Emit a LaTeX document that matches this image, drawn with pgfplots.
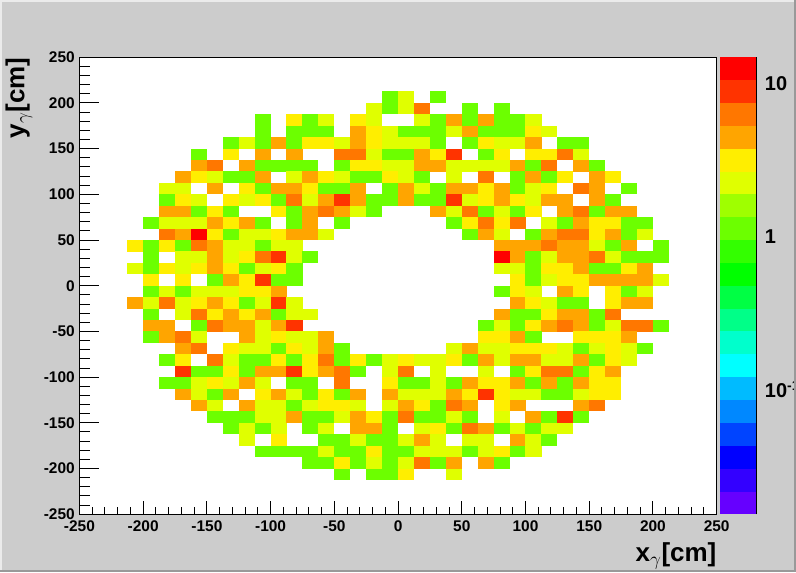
\documentclass[border=0pt]{standalone}
\usepackage{fontspec}
\setmainfont{Liberation Sans}
\usepackage{pgfplots}
\pgfplotsset{compat=1.18}

% 1 px = 0.75 pt; canvas 796x572 px
\pgfdeclareplotmark{cell}{\pgfpathrectangle{\pgfqpoint{-6.02pt}{-4.33pt}}{\pgfqpoint{12.04pt}{8.66pt}}\pgfusepathqfill}
\pgfdeclareplotmark{band}{\pgfpathrectangle{\pgfqpoint{-13.6pt}{-8.62pt}}{\pgfqpoint{27.2pt}{17.24pt}}\pgfusepathqfill}

% ROOT palette, bottom to top
\definecolor{p0}{RGB}{102,0,255}
\definecolor{p1}{RGB}{51,0,255}
\definecolor{p2}{RGB}{0,0,255}
\definecolor{p3}{RGB}{0,68,255}
\definecolor{p4}{RGB}{0,136,255}
\definecolor{p5}{RGB}{0,187,255}
\definecolor{p6}{RGB}{0,255,255}
\definecolor{p7}{RGB}{0,255,204}
\definecolor{p8}{RGB}{0,255,136}
\definecolor{p9}{RGB}{0,255,68}
\definecolor{p10}{RGB}{0,255,0}
\definecolor{p11}{RGB}{51,255,0}
\definecolor{p12}{RGB}{108,255,0}
\definecolor{p13}{RGB}{159,255,0}
\definecolor{p14}{RGB}{224,255,0}
\definecolor{p15}{RGB}{255,238,0}
\definecolor{p16}{RGB}{255,165,0}
\definecolor{p17}{RGB}{255,119,0}
\definecolor{p18}{RGB}{255,51,0}
\definecolor{p19}{RGB}{255,0,0}

\pgfplotsset{
  cellplot/.style={only marks, scatter, forget plot,
    point meta=explicit symbolic,
    scatter/classes={
      1={mark=cell,fill=p12,draw=none},
      2={mark=cell,fill=p14,draw=none},
      3={mark=cell,fill=p15,draw=none},
      4={mark=cell,fill=p16,draw=none},
      6={mark=cell,fill=p17,draw=none},
      8={mark=cell,fill=p18,draw=none},
      12={mark=cell,fill=p19,draw=none}}},
  rootframe/.style={
    at={(59.6pt,43.3pt)}, anchor=south west, scale only axis,
    width=477.9pt, height=342.8pt,
    xmin=-250, xmax=250, ymin=-250, ymax=250,
    tick align=inside, tick pos=left,
    tick style={black, line width=.75pt},
    axis line style={black, line width=.8pt},
    ticklabel style={font=\fontsize{11.6pt}{12pt}\selectfont\bfseries},
  },
}

% one row of the histogram: y centre in cm, then "bin count" pairs
\newcommand{\binrow}[2]{\addplot[cellplot] table[row sep=\\, x expr={-243.75+12.5*\thisrow{i}}, y expr={#1}, meta=n] {i n\\ #2};}

\begin{document}
\begin{tikzpicture}
\path[use as bounding box] (0,0) rectangle (597pt,429pt);
\fill[fill=black!20] (0,0) rectangle (597pt,429pt);

\begin{axis}[rootframe,
    axis background/.style={fill=white},
    xtick=\empty,
    ytick={-250,-200,...,250},
    yticklabels={-250,-200,-150,-100,-50,0,50,100,150,200,250},
    minor y tick num=4,
    major tick length=14.8pt, minor tick length=8pt,
    ylabel={y$_{\gamma}$[cm]},
    every axis y label/.style={at={(axis description cs:-0.095,1)}, rotate=90, anchor=east, inner sep=0pt,
      font=\fontsize{19.5pt}{20pt}\selectfont\bfseries},
  ]
\binrow{206.25}{19 1\\ 20 2\\ 22 1\\}
\binrow{193.75}{18 2\\ 19 1\\ 20 2\\ 21 6\\ 24 1\\ 26 1\\}
\binrow{181.25}{11 1\\ 13 3\\ 14 1\\ 15 2\\ 17 3\\ 18 2\\ 21 2\\ 22 1\\ 23 4\\ 24 1\\ 25 4\\ 26 1\\ 27 1\\ 28 2\\}
\binrow{168.75}{11 1\\ 13 1\\ 14 1\\ 15 1\\ 17 4\\ 18 3\\ 19 2\\ 20 1\\ 21 1\\ 22 1\\ 23 2\\ 24 4\\ 25 1\\ 26 1\\ 27 1\\ 28 3\\ 29 2\\}
\binrow{156.25}{9 1\\ 10 2\\ 11 1\\ 12 4\\ 13 1\\ 14 3\\ 15 3\\ 16 2\\ 17 4\\ 18 3\\ 19 2\\ 20 2\\ 21 2\\ 22 1\\ 24 1\\ 25 3\\ 26 2\\ 27 2\\ 28 4\\ 30 1\\ 31 1\\}
\binrow{143.75}{7 1\\ 9 3\\ 11 4\\ 13 4\\ 16 6\\ 17 6\\ 18 2\\ 19 1\\ 20 1\\ 21 4\\ 22 3\\ 23 8\\ 25 1\\ 26 3\\ 28 3\\ 29 3\\ 30 6\\ 31 2\\}
\binrow{131.25}{7 4\\ 8 6\\ 10 4\\ 11 1\\ 12 1\\ 13 1\\ 14 1\\ 16 1\\ 17 3\\ 18 3\\ 19 2\\ 20 2\\ 21 4\\ 22 4\\ 23 2\\ 24 2\\ 25 2\\ 26 2\\ 27 4\\ 28 1\\ 29 6\\ 31 4\\ 32 1\\}
\binrow{118.75}{6 4\\ 7 3\\ 8 2\\ 9 1\\ 10 1\\ 11 4\\ 13 2\\ 14 4\\ 15 3\\ 16 2\\ 17 1\\ 18 1\\ 19 3\\ 20 2\\ 21 1\\ 23 2\\ 25 6\\ 27 1\\ 28 4\\ 29 1\\ 30 3\\ 32 4\\ 33 3\\}
\binrow{106.25}{5 2\\ 6 2\\ 8 4\\ 10 3\\ 11 1\\ 12 4\\ 13 4\\ 14 3\\ 15 1\\ 16 1\\ 17 4\\ 19 1\\ 20 4\\ 21 2\\ 22 1\\ 23 4\\ 24 4\\ 25 3\\ 26 4\\ 27 1\\ 28 2\\ 29 3\\ 31 6\\ 32 4\\ 34 1\\}
\binrow{93.75}{5 1\\ 6 3\\ 7 2\\ 9 3\\ 10 2\\ 11 3\\ 12 1\\ 13 6\\ 14 2\\ 15 4\\ 16 8\\ 17 4\\ 18 1\\ 19 1\\ 20 4\\ 21 1\\ 22 1\\ 23 8\\ 24 2\\ 25 3\\ 26 4\\ 27 3\\ 28 2\\ 29 4\\ 30 4\\ 32 4\\ 33 1\\}
\binrow{81.25}{5 4\\ 6 4\\ 7 1\\ 8 3\\ 9 1\\ 12 3\\ 13 1\\ 14 4\\ 15 6\\ 16 4\\ 17 2\\ 18 1\\ 22 4\\ 23 2\\ 24 6\\ 25 1\\ 26 2\\ 27 1\\ 28 3\\ 30 4\\ 31 6\\ 32 1\\ 33 4\\ 34 4\\}
\binrow{68.75}{4 1\\ 5 2\\ 6 2\\ 7 2\\ 8 4\\ 9 3\\ 10 4\\ 11 1\\ 13 1\\ 14 4\\ 16 1\\ 23 1\\ 24 3\\ 25 6\\ 26 3\\ 27 6\\ 29 2\\ 30 1\\ 31 4\\ 32 3\\ 33 3\\ 34 1\\ 35 1\\}
\binrow{56.25}{5 6\\ 6 4\\ 7 12\\ 8 3\\ 9 1\\ 10 2\\ 11 2\\ 12 3\\ 13 4\\ 14 4\\ 15 2\\ 24 1\\ 25 4\\ 26 2\\ 28 1\\ 29 4\\ 30 6\\ 31 6\\ 32 3\\ 33 4\\ 34 1\\ 35 2\\}
\binrow{43.75}{3 3\\ 4 1\\ 5 3\\ 6 1\\ 7 6\\ 8 4\\ 9 2\\ 10 2\\ 11 1\\ 12 2\\ 13 2\\ 26 4\\ 27 4\\ 28 4\\ 29 6\\ 30 4\\ 31 4\\ 32 2\\ 33 1\\ 34 4\\ 36 1\\}
\binrow{31.25}{4 1\\ 6 2\\ 7 2\\ 8 4\\ 9 2\\ 10 3\\ 11 6\\ 12 8\\ 13 2\\ 14 1\\ 26 12\\ 27 4\\ 28 1\\ 29 2\\ 30 4\\ 31 4\\ 32 6\\ 33 2\\ 34 1\\ 35 1\\ 36 1\\}
\binrow{18.75}{3 2\\ 4 1\\ 5 3\\ 6 2\\ 7 3\\ 8 4\\ 9 3\\ 10 1\\ 11 2\\ 12 3\\ 13 1\\ 26 2\\ 27 2\\ 28 1\\ 29 3\\ 30 3\\ 31 4\\ 32 1\\ 33 1\\ 34 3\\ 35 4\\}
\binrow{6.25}{4 3\\ 6 3\\ 8 1\\ 9 4\\ 10 3\\ 11 8\\ 12 1\\ 13 1\\ 27 3\\ 28 1\\ 29 2\\ 30 3\\ 31 3\\ 32 4\\ 33 4\\ 34 4\\ 35 4\\ 36 2\\}
\binrow{-6.25}{4 1\\ 5 2\\ 6 1\\ 7 2\\ 8 2\\ 9 2\\ 10 3\\ 11 3\\ 12 4\\ 26 1\\ 27 3\\ 28 2\\ 30 4\\ 31 3\\ 33 3\\ 34 1\\ 35 2\\}
\binrow{-18.75}{3 4\\ 4 2\\ 5 6\\ 6 2\\ 7 3\\ 8 4\\ 9 3\\ 10 1\\ 11 2\\ 12 8\\ 13 2\\ 27 4\\ 28 3\\ 29 2\\ 30 1\\ 31 1\\ 33 3\\ 34 4\\ 35 4\\}
\binrow{-31.25}{4 1\\ 6 2\\ 7 6\\ 8 3\\ 9 4\\ 10 3\\ 11 4\\ 12 1\\ 13 2\\ 14 2\\ 26 4\\ 27 1\\ 28 1\\ 29 3\\ 30 4\\ 31 4\\ 32 1\\ 33 6\\}
\binrow{-43.75}{4 4\\ 5 4\\ 7 1\\ 8 6\\ 9 4\\ 10 4\\ 11 2\\ 12 4\\ 13 8\\ 25 1\\ 26 2\\ 27 1\\ 28 3\\ 29 4\\ 30 6\\ 31 4\\ 32 1\\ 33 2\\ 34 6\\ 35 6\\ 36 1\\}
\binrow{-56.25}{4 1\\ 5 4\\ 6 6\\ 7 2\\ 10 4\\ 11 2\\ 12 3\\ 13 2\\ 14 2\\ 15 4\\ 25 3\\ 26 3\\ 27 4\\ 28 1\\ 31 3\\ 32 3\\ 33 3\\ 34 4\\}
\binrow{-68.75}{6 4\\ 7 6\\ 9 3\\ 10 2\\ 11 2\\ 12 1\\ 13 3\\ 14 2\\ 15 4\\ 16 1\\ 23 2\\ 24 4\\ 25 2\\ 26 2\\ 27 3\\ 28 3\\ 29 3\\ 30 2\\ 31 1\\ 32 2\\ 33 3\\ 34 2\\ 35 1\\}
\binrow{-81.25}{5 1\\ 6 3\\ 8 6\\ 9 2\\ 10 1\\ 11 1\\ 12 3\\ 13 1\\ 14 3\\ 15 6\\ 16 1\\ 17 3\\ 18 1\\ 19 2\\ 20 3\\ 21 2\\ 22 2\\ 23 3\\ 24 1\\ 25 4\\ 26 2\\ 27 4\\ 28 4\\ 29 2\\ 30 2\\ 31 4\\ 32 1\\ 33 3\\ 34 2\\}
\binrow{-93.75}{6 8\\ 7 1\\ 8 1\\ 9 3\\ 10 1\\ 11 4\\ 12 4\\ 13 8\\ 14 3\\ 15 4\\ 16 6\\ 17 1\\ 19 2\\ 20 6\\ 22 2\\ 25 2\\ 27 1\\ 28 3\\ 29 6\\ 30 6\\ 31 1\\ 32 3\\ 33 4\\}
\binrow{-106.25}{5 1\\ 6 1\\ 7 2\\ 8 3\\ 9 2\\ 10 4\\ 11 2\\ 13 1\\ 14 1\\ 16 6\\ 19 3\\ 20 1\\ 21 1\\ 22 2\\ 23 1\\ 24 4\\ 25 3\\ 26 3\\ 27 4\\ 28 1\\ 29 4\\ 30 1\\ 31 4\\ 32 3\\ 33 3\\}
\binrow{-118.75}{6 4\\ 7 2\\ 8 1\\ 9 4\\ 11 3\\ 12 4\\ 13 2\\ 14 1\\ 15 3\\ 16 1\\ 17 4\\ 19 4\\ 20 2\\ 21 2\\ 22 2\\ 23 4\\ 24 3\\ 25 8\\ 26 3\\ 27 2\\ 28 2\\ 29 1\\ 30 1\\ 31 2\\ 32 3\\ 33 3\\}
\binrow{-131.25}{7 4\\ 8 2\\ 10 4\\ 11 2\\ 12 2\\ 13 1\\ 14 2\\ 15 3\\ 16 3\\ 17 2\\ 19 2\\ 20 4\\ 21 3\\ 22 1\\ 23 6\\ 24 4\\ 26 3\\ 27 4\\ 31 4\\ 32 6\\}
\binrow{-143.75}{8 1\\ 9 1\\ 10 1\\ 11 2\\ 12 2\\ 13 4\\ 14 1\\ 15 1\\ 16 2\\ 17 4\\ 18 3\\ 19 1\\ 20 6\\ 21 1\\ 22 1\\ 23 2\\ 24 1\\ 26 2\\ 28 4\\ 29 1\\ 30 8\\ 31 1\\}
\binrow{-156.25}{9 1\\ 10 2\\ 11 1\\ 12 2\\ 14 1\\ 15 2\\ 17 4\\ 18 4\\ 19 1\\ 21 2\\ 22 3\\ 23 1\\ 24 6\\ 25 4\\ 26 1\\ 27 2\\ 28 1\\ 29 2\\ 30 2\\}
\binrow{-168.75}{10 2\\ 12 3\\ 15 1\\ 16 1\\ 17 2\\ 18 1\\ 19 1\\ 20 2\\ 21 4\\ 22 2\\ 24 2\\ 25 2\\ 27 4\\ 28 2\\ 29 1\\}
\binrow{-181.25}{11 1\\ 12 1\\ 13 1\\ 14 1\\ 15 2\\ 16 1\\ 17 1\\ 18 3\\ 19 1\\ 20 1\\ 21 2\\ 22 2\\ 23 2\\ 24 1\\ 25 2\\ 26 3\\ 27 1\\ 28 2\\}
\binrow{-193.75}{14 1\\ 15 1\\ 16 3\\ 17 1\\ 18 2\\ 19 1\\ 20 2\\ 21 6\\ 22 1\\ 23 4\\ 25 4\\ 26 1\\}
\binrow{-206.25}{16 1\\ 18 1\\ 19 1\\ 20 3\\ 23 2\\}
\end{axis}

% x ticks are shorter than the y ticks, so they get their own axis
\begin{axis}[rootframe,
    ytick=\empty,
    xtick={-250,-200,...,250},
    xticklabels={-250,-200,-150,-100,-50,0,50,100,150,200,250},
    minor x tick num=4,
    major tick length=9.75pt, minor tick length=5.25pt,
    xticklabel style={yshift=-1pt},
    xlabel={x$_{\gamma}$[cm]},
    every axis x label/.style={at={(axis description cs:1,0)}, anchor=north east, yshift=-21pt, inner sep=0pt,
      font=\fontsize{19.5pt}{20pt}\selectfont\bfseries},
  ]
\end{axis}

% palette, on its own log10 scale
\begin{axis}[
    at={(540pt,43.3pt)}, anchor=south west, scale only axis,
    width=27.2pt, height=342.8pt,
    xmin=0, xmax=1, ymin=-1.817, ymax=1.173,
    axis x line=none, axis y line*=right,
    axis line style={-, black, line width=.8pt},
    tick align=inside,
    tick style={black, line width=.75pt},
    major tick length=14.4pt, minor tick length=7.7pt,
    ytick={-1,0,1}, yticklabels={10\textsuperscript{-1},1,10},
    minor ytick={-1.699,-1.523,-1.398,-1.301,-1.222,-1.155,-1.097,-1.046,-0.699,-0.523,-0.398,-0.301,-0.222,-0.155,-0.097,-0.046,0.301,0.477,0.602,0.699,0.778,0.845,0.903,0.954},
    yticklabel style={font=\fontsize{15pt}{16pt}\selectfont\bfseries, xshift=3pt},
  ]
\addplot[only marks, scatter, point meta=explicit symbolic,
    scatter/classes={
      a={mark=band,fill=p0,draw=none}, b={mark=band,fill=p1,draw=none}, c={mark=band,fill=p2,draw=none},
      d={mark=band,fill=p3,draw=none}, e={mark=band,fill=p4,draw=none}, f={mark=band,fill=p5,draw=none},
      g={mark=band,fill=p6,draw=none}, h={mark=band,fill=p7,draw=none}, i={mark=band,fill=p8,draw=none},
      j={mark=band,fill=p9,draw=none}, k={mark=band,fill=p10,draw=none}, l={mark=band,fill=p11,draw=none},
      m={mark=band,fill=p12,draw=none}, n={mark=band,fill=p13,draw=none}, o={mark=band,fill=p14,draw=none},
      p={mark=band,fill=p15,draw=none}, q={mark=band,fill=p16,draw=none}, r={mark=band,fill=p17,draw=none},
      s={mark=band,fill=p18,draw=none}, t={mark=band,fill=p19,draw=none}}]
  coordinates {(0.5,-1.742)[a](0.5,-1.593)[b](0.5,-1.443)[c](0.5,-1.294)[d](0.5,-1.144)[e](0.5,-0.995)[f](0.5,-0.845)[g](0.5,-0.696)[h](0.5,-0.546)[i](0.5,-0.397)[j]
  (0.5,-0.247)[k](0.5,-0.098)[l](0.5,0.052)[m](0.5,0.201)[n](0.5,0.351)[o](0.5,0.500)[p](0.5,0.650)[q](0.5,0.799)[r](0.5,0.949)[s](0.5,1.098)[t]};
\end{axis}

% canvas bevel
\fill[black!8] (0,427.5pt) rectangle (597pt,429pt);
\fill[black!8] (0,0) rectangle (1.5pt,429pt);
\fill[black!40] (0,0) rectangle (597pt,1.2pt);
\fill[black!40] (595.5pt,0) rectangle (597pt,429pt);
\end{tikzpicture}
\end{document}
